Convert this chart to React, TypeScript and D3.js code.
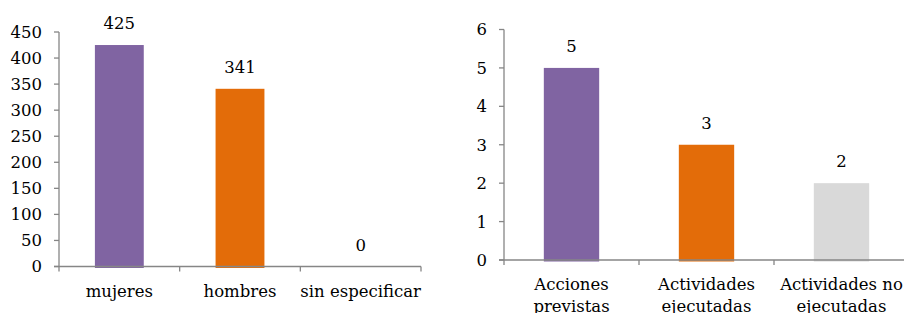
import React from "react";
import * as d3 from "d3";

const leftCategories = ["mujeres", "hombres", "sin especificar"];
const leftValues = [425, 341, 0];
const leftTicks = [0, 50, 100, 150, 200, 250, 300, 350, 400, 450];

const rightCategories = ["Acciones\nprevistas", "Actividades\nejecutadas", "Actividades no\nejecutadas"];
const rightValues = [5, 3, 2];
const rightTicks = [0, 1, 2, 3, 4, 5, 6];

const leftColors = ["#8064A2", "#E36C09", "#D9D9D9"];
const rightColors = ["#8064A2", "#E36C09", "#D9D9D9"];

const FONT = "'DejaVu Serif', serif";
const AXIS = "#868686";
const FS = 16.5;

type PanelProps = {
  categories: string[];
  values: number[];
  ticks: number[];
  colors: string[];
  x0: number;
  x1: number;
  yTop: number;
  yBottom: number;
  yMax: number;
  barFrac: number;
  lineHeight: number;
};

function Panel({ categories, values, ticks, colors, x0, x1, yTop, yBottom, yMax, barFrac, lineHeight }: PanelProps) {
  const x = d3.scaleBand<string>().domain(categories).range([x0, x1]).paddingInner(0).paddingOuter(0);
  const y = d3.scaleLinear().domain([0, yMax]).range([yBottom, yTop]);
  const bw = x.bandwidth() * barFrac;
  const boundaries = [...categories.map((c) => x(c) as number), x1];
  return (
    <g>
      {categories.map((c, i) => {
        const cx = (x(c) as number) + x.bandwidth() / 2;
        const v = values[i];
        return (
          <g key={c}>
            {v > 0 && (
              <rect x={cx - bw / 2} y={y(v)} width={bw} height={y(0) - y(v) + 1.5} fill={colors[i]} />
            )}
            <text x={cx} y={y(v) - 16} textAnchor="middle" fontSize={FS} fontFamily={FONT} fill="#000">
              {v}
            </text>
            {c.split("\n").map((line, j) => (
              <text key={j} x={cx} y={yBottom + 30 + j * lineHeight} textAnchor="middle" fontSize={FS} fontFamily={FONT} fill="#000">
                {line}
              </text>
            ))}
          </g>
        );
      })}
      <line x1={x0} x2={x0} y1={yTop} y2={yBottom} stroke={AXIS} strokeWidth={1.3} />
      {ticks.map((t) => (
        <g key={t}>
          <line x1={x0 - 5} x2={x0} y1={y(t)} y2={y(t)} stroke={AXIS} strokeWidth={1.3} />
          <text x={x0 - 17} y={y(t)} dy="0.36em" textAnchor="end" fontSize={FS} fontFamily={FONT} fill="#000">
            {t}
          </text>
        </g>
      ))}
      <line x1={x0 - 5} x2={x1} y1={yBottom} y2={yBottom} stroke={AXIS} strokeWidth={1.3} />
      {boundaries.map((b, i) => (
        <line key={i} x1={b} x2={b} y1={yBottom} y2={yBottom + 5} stroke={AXIS} strokeWidth={1.3} />
      ))}
    </g>
  );
}

export default function App() {
  return (
    <svg width={904} height={313} style={{ position: "absolute", left: 0, top: 0, background: "#fff" }}>
      <rect x={0} y={0} width={904} height={313} fill="#fff" />
      <Panel
        categories={leftCategories}
        values={leftValues}
        ticks={leftTicks}
        colors={leftColors}
        x0={59}
        x1={421}
        yTop={32}
        yBottom={266.5}
        yMax={450}
        barFrac={0.405}
        lineHeight={22}
      />
      <Panel
        categories={rightCategories}
        values={rightValues}
        ticks={rightTicks}
        colors={rightColors}
        x0={504}
        x1={909}
        yTop={29.5}
        yBottom={260}
        yMax={6}
        barFrac={0.41}
        lineHeight={22}
      />
    </svg>
  );
}
